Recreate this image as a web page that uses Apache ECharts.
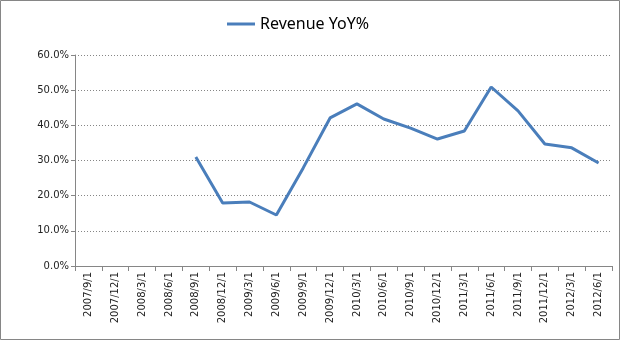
<!DOCTYPE html>
<html>
<head>
<meta charset="utf-8">
<script src="https://cdn.jsdelivr.net/npm/echarts@6/dist/echarts.min.js"></script>
<style>html,body{margin:0;padding:0;background:#fff}#c{width:622px;height:343px}</style>
</head>
<body>
<div id="c"></div>
<script>
const categories = ["2007/9/1","2007/12/1","2008/3/1","2008/6/1","2008/9/1","2008/12/1","2009/3/1","2009/6/1","2009/9/1","2009/12/1","2010/3/1","2010/6/1","2010/9/1","2010/12/1","2011/3/1","2011/6/1","2011/9/1","2011/12/1","2012/3/1","2012/6/1"];
const revenueYoY = [null,null,null,null,31.0,17.9,18.2,14.5,27.9,42.1,46.1,41.8,39.2,36.1,38.4,50.9,44.1,34.7,33.6,29.3];
const seriesName = "Revenue YoY%";

const chart = echarts.init(document.getElementById('c'), null, {renderer:'canvas'});
chart.setOption({
  animation:false,
  backgroundColor:'#fff',
  graphic:[{type:'rect',shape:{x:0.5,y:0.5,width:619,height:339},style:{fill:'none',stroke:'#868686',lineWidth:1},silent:true}],
  legend:{
    top:11, left:222,
    itemWidth:28, itemHeight:3, itemGap:2,
    icon:'rect',
    textStyle:{fontFamily:'Noto Sans',fontSize:16,color:'#000'},
    data:[seriesName]
  },
  grid:{left:75,right:10,top:55,bottom:77,containLabel:false},
  xAxis:{
    type:'category',
    data:categories,
    boundaryGap:true,
    axisLine:{lineStyle:{color:'#868686',width:1}},
    axisTick:{show:true,length:5,lineStyle:{color:'#868686'}},
    axisLabel:{rotate:90,interval:0,fontFamily:'DejaVu Sans',fontSize:10,color:'#222',margin:6}
  },
  yAxis:{
    type:'value',min:0,max:60,interval:10,
    axisLine:{show:true,lineStyle:{color:'#868686',width:1}},
    axisTick:{show:true,length:4,lineStyle:{color:'#868686'}},
    axisLabel:{formatter:v=>v.toFixed(1)+'%',fontFamily:'DejaVu Sans',fontSize:10,color:'#222',margin:6},
    splitLine:{show:true,lineStyle:{type:[1,2],color:'#868686',width:1}}
  },
  series:[{
    name:seriesName,type:'line',data:revenueYoY,
    symbol:'none',connectNulls:false,
    lineStyle:{color:'#4A7EBB',width:3},
    itemStyle:{color:'#4A7EBB'}
  }]
});
</script>
</body>
</html>
